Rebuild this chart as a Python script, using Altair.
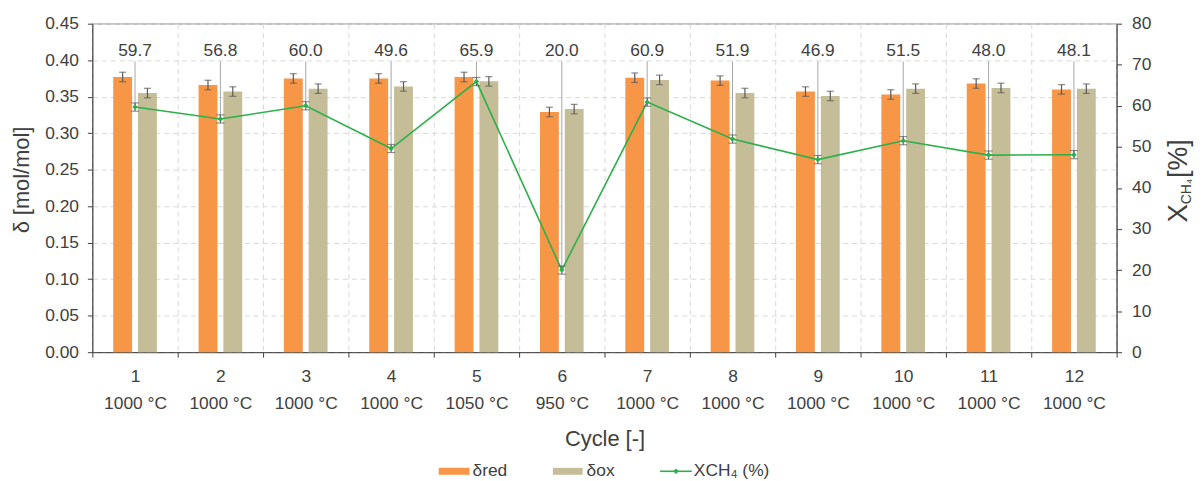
import altair as alt
import pandas as pd

# ---------------- data ----------------
cycles = ["1", "2", "3", "4", "5", "6", "7", "8", "9", "10", "11", "12"]
temps = ["1000 °C", "1000 °C", "1000 °C", "1000 °C", "1050 °C", "950 °C",
         "1000 °C", "1000 °C", "1000 °C", "1000 °C", "1000 °C", "1000 °C"]
delta_red = [0.377, 0.366, 0.375, 0.375, 0.377, 0.329, 0.376, 0.372, 0.357, 0.353, 0.368, 0.360]
delta_ox = [0.355, 0.357, 0.361, 0.364, 0.371, 0.333, 0.373, 0.355, 0.351, 0.361, 0.362, 0.361]
red_err = [0.0065, 0.0065, 0.0065, 0.0065, 0.0065, 0.0065, 0.0065, 0.0065, 0.0065, 0.0065, 0.0065, 0.0065]
ox_err = [0.0065, 0.0065, 0.0065, 0.0065, 0.0065, 0.0065, 0.0065, 0.0065, 0.0065, 0.0065, 0.0065, 0.0065]
xch4 = [59.7, 56.8, 60.0, 49.6, 65.9, 20.0, 60.9, 51.9, 46.9, 51.5, 48.0, 48.1]
xch4_err = [1.0, 1.0, 1.0, 1.0, 1.0, 1.0, 1.0, 1.0, 1.0, 1.0, 1.0, 1.0]
series_names = ["δred", "δox"]
line_name = "XCH₄ (%)"
right_title_parts = ["X", "CH₄", "[%]"]
left_ticks = [0.0, 0.05, 0.10, 0.15, 0.20, 0.25, 0.30, 0.35, 0.40, 0.45]
right_ticks = [0, 10, 20, 30, 40, 50, 60, 70, 80]

# ---------------- tables ----------------
cats = [f"{c}|{t}" for c, t in zip(cycles, temps)]
rows = []
for i, cat in enumerate(cats):
    rows.append({"cat": cat, "series": series_names[0], "value": delta_red[i],
                 "lo": delta_red[i] - red_err[i], "hi": delta_red[i] + red_err[i]})
    rows.append({"cat": cat, "series": series_names[1], "value": delta_ox[i],
                 "lo": delta_ox[i] - ox_err[i], "hi": delta_ox[i] + ox_err[i]})
bars_df = pd.DataFrame(rows)
line_df = pd.DataFrame({"cat": cats, "xch4": xch4,
                        "lo": [v - e for v, e in zip(xch4, xch4_err)],
                        "hi": [v + e for v, e in zip(xch4, xch4_err)]})

ORANGE = "#F79646"
OLIVE = "#C4BD97"
GREEN = "#2DB04B"
TXT = "#404040"
ERR = "#595959"
GRID = "#D9D9D9"
FS = 17.5

W, H = 1032, 331

x_enc = alt.X(
    "cat:N", sort=cats, title="Cycle [-]",
    scale=alt.Scale(paddingInner=0, paddingOuter=0),
    axis=alt.Axis(tickBand="extent", grid=True, gridDash=[5, 4], gridColor=GRID,
                  labelExpr="split(datum.label, '|')", labelAngle=0,
                  labelFontSize=FS, labelColor=TXT, labelLineHeight=27,
                  labelPadding=11, tickSize=5, tickColor=TXT, domainColor=TXT,
                  titleFontSize=22, titleFontWeight="normal", titleColor=TXT,
                  titleY=87, titleBaseline="middle"),
)
xoff = alt.XOffset("series:N", sort=series_names,
                   scale=alt.Scale(domain=series_names, paddingInner=0.24, paddingOuter=0.84))

left_axis = alt.Axis(values=left_ticks, format=".2f", grid=True, gridDash=[5, 4],
                     gridColor=GRID, labelFontSize=FS, labelColor=TXT, tickSize=5,
                     labelPadding=9, labelOverlap=False, labelFlush=False,
                     tickColor=TXT, domainColor=TXT, titleFontSize=22,
                     titleFontWeight="normal", titleColor=TXT,
                     titleX=-71, titleY=157, titleAngle=270, titleBaseline="middle",
                     titleAlign="center")
left_scale = alt.Scale(domain=[0, 0.45], nice=False, zero=True)
LT = "δ [mol/mol]"

base_b = alt.Chart(bars_df)
bars = base_b.mark_bar().encode(
    x=x_enc, xOffset=xoff,
    y=alt.Y("value:Q", scale=left_scale, axis=left_axis, title=LT),
    color=alt.Color("series:N", scale=alt.Scale(domain=series_names, range=[ORANGE, OLIVE]),
                    legend=None),
)
b_rule = base_b.mark_rule(color=ERR, strokeWidth=1.2).encode(
    x=x_enc, xOffset=xoff,
    y=alt.Y("lo:Q", scale=left_scale, axis=left_axis, title=LT), y2="hi:Q")
b_cap1 = base_b.mark_tick(color=ERR, size=7, thickness=1.2).encode(
    x=x_enc, xOffset=xoff, y=alt.Y("lo:Q", scale=left_scale, axis=left_axis, title=LT))
b_cap2 = base_b.mark_tick(color=ERR, size=7, thickness=1.2).encode(
    x=x_enc, xOffset=xoff, y=alt.Y("hi:Q", scale=left_scale, axis=left_axis, title=LT))
left = alt.layer(bars, b_rule, b_cap1, b_cap2)

right_scale = alt.Scale(domain=[0, 80], nice=False, zero=True)
right_axis = alt.Axis(orient="right", values=right_ticks, grid=False, labelFontSize=FS,
                      labelColor=TXT, tickSize=5, labelPadding=10, labelOverlap=False,
                      tickColor=TXT, domainColor=TXT, title=None)
base_l = alt.Chart(line_df)
leader = base_l.mark_rule(color="#A6A6A6", strokeWidth=1).encode(
    x=x_enc, y=alt.Y("xch4:Q", scale=right_scale, axis=right_axis), y2=alt.value(38))
line = base_l.mark_line(color=GREEN, strokeWidth=1.6).encode(
    x=x_enc, y=alt.Y("xch4:Q", scale=right_scale, axis=right_axis))
p_rule = base_l.mark_rule(color=ERR, strokeWidth=1.1).encode(
    x=x_enc, y=alt.Y("lo:Q", scale=right_scale, axis=right_axis), y2="hi:Q")
p_cap1 = base_l.mark_tick(color=ERR, size=8, thickness=1.1).encode(
    x=x_enc, y=alt.Y("lo:Q", scale=right_scale, axis=right_axis))
p_cap2 = base_l.mark_tick(color=ERR, size=8, thickness=1.1).encode(
    x=x_enc, y=alt.Y("hi:Q", scale=right_scale, axis=right_axis))
points = base_l.mark_point(shape="diamond", filled=True, size=30, color=GREEN, opacity=1).encode(
    x=x_enc, y=alt.Y("xch4:Q", scale=right_scale, axis=right_axis))
labels = base_l.mark_text(fontSize=FS, color=TXT, baseline="middle").encode(
    x=x_enc, y=alt.value(28), text=alt.Text("xch4:Q", format=".1f"))
right = alt.layer(leader, line, p_rule, p_cap1, p_cap2, points, labels)

# right axis title (X with subscript CH4)
one = alt.Data(values=[{"k": 0}])
t_x = alt.Chart(one).mark_text(fontSize=28, color=TXT, angle=270, align="center",
                               baseline="middle").encode(
    x=alt.value(1095), y=alt.value(191), text=alt.value(right_title_parts[0]))
t_sub = alt.Chart(one).mark_text(fontSize=14, color=TXT, angle=270, align="center",
                                 baseline="middle").encode(
    x=alt.value(1103), y=alt.value(169), text=alt.value(right_title_parts[1]))
t_pct = alt.Chart(one).mark_text(fontSize=27, color=TXT, angle=270, align="center",
                                 baseline="middle").encode(
    x=alt.value(1095), y=alt.value(136), text=alt.value(right_title_parts[2]))

# legend
LY = 451
lg_r = alt.Chart(one).mark_rect(color=ORANGE).encode(
    x=alt.value(349), x2=alt.value(380), y=alt.value(LY - 3.5), y2=alt.value(LY + 3.5))
lg_rt = alt.Chart(one).mark_text(fontSize=FS, color=TXT, align="left", baseline="middle").encode(
    x=alt.value(383), y=alt.value(LY), text=alt.value(series_names[0]))
lg_o = alt.Chart(one).mark_rect(color=OLIVE).encode(
    x=alt.value(464), x2=alt.value(494), y=alt.value(LY - 3.5), y2=alt.value(LY + 3.5))
lg_ot = alt.Chart(one).mark_text(fontSize=FS, color=TXT, align="left", baseline="middle").encode(
    x=alt.value(498), y=alt.value(LY), text=alt.value(series_names[1]))
lg_l = alt.Chart(one).mark_rule(color=GREEN, strokeWidth=1.6).encode(
    x=alt.value(572), x2=alt.value(604), y=alt.value(LY))
lg_p = alt.Chart(one).mark_point(shape="diamond", filled=True, size=30, color=GREEN,
                                 opacity=1).encode(x=alt.value(588), y=alt.value(LY))
lg_lt = alt.Chart(one).mark_text(fontSize=FS, color=TXT, align="left", baseline="middle").encode(
    x=alt.value(606), y=alt.value(LY), text=alt.value(line_name))

chart = alt.layer(
    left, right, t_x, t_sub, t_pct, lg_r, lg_rt, lg_o, lg_ot, lg_l, lg_p, lg_lt
).resolve_scale(y="independent").properties(
    width=W, height=H,
    autosize=alt.AutoSizeParams(type="none"),
    padding={"left": 85, "top": 14, "right": 80, "bottom": 130},
).configure(font="Liberation Sans").configure_axis(
    labelOverlap=False
).configure_view(stroke="#808080", strokeWidth=1.2)

chart.save("out.html", embed_options={"renderer": "svg", "actions": False})
